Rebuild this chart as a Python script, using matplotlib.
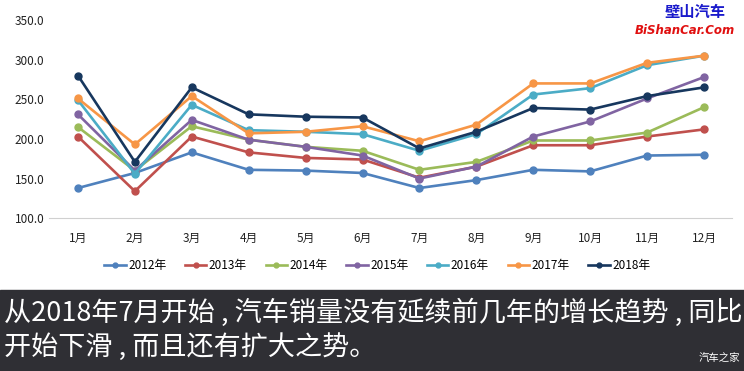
import matplotlib
matplotlib.use('Agg')
import matplotlib.pyplot as plt
from matplotlib.patches import Rectangle

plt.rcParams['font.family'] = ['Noto Sans CJK SC', 'DejaVu Sans']

months = ['1月', '2月', '3月', '4月', '5月', '6月', '7月', '8月', '9月', '10月', '11月', '12月']
years = ['2012年', '2013年', '2014年', '2015年', '2016年', '2017年', '2018年']

s2012 = [138, 157, 183, 161, 160, 157, 138, 148, 161, 159, 179, 180]
s2013 = [203, 134, 203, 183, 176, 174, 151, 165, 192, 192, 203, 212]
s2014 = [215, 160, 216, 199, 190, 185, 161, 171, 198, 198, 208, 240]
s2015 = [231, 160, 224, 199, 190, 179, 150, 165, 203, 222, 251, 278]
s2016 = [249, 156, 243, 211, 209, 206, 185, 206, 256, 264, 293, 305]
s2017 = [251, 193, 254, 207, 209, 216, 197, 218, 270, 270, 296, 305]
s2018 = [280, 171, 265, 231, 228, 227, 188, 209, 239, 237, 254, 265]

series = [s2012, s2013, s2014, s2015, s2016, s2017, s2018]
colors = ['#4f81bd', '#c0504d', '#9bbb59', '#8064a2', '#4bacc6', '#f79646', '#17375e']

fig = plt.figure(figsize=(7.44, 3.71), dpi=100)
ax = fig.add_axes([0.0665, 0.412, 0.918, 0.534])

x = list(range(1, 13))
for vals, c, name in zip(series, colors, years):
    ax.plot(x, vals, color=c, lw=1.9, marker='o', markersize=5, label=name)

ax.set_xlim(0.5, 12.5)
ax.set_ylim(100, 350)
ax.set_yticks([100, 150, 200, 250, 300, 350])
ax.set_yticklabels(['%.1f' % v for v in [100, 150, 200, 250, 300, 350]])
ax.set_xticks(x)
ax.set_xticklabels(months)
ax.tick_params(length=0, labelsize=8.5, colors='#222222')
ax.tick_params(axis='x', pad=10)
for s in ['top', 'right', 'left']:
    ax.spines[s].set_visible(False)
ax.spines['bottom'].set_color('#d0d0d0')

ax.legend(loc='upper center', bbox_to_anchor=(0.48, -0.155), ncol=7, frameon=False,
          fontsize=8.5, handlelength=1.8, handletextpad=0.2, columnspacing=1.6,
          markerscale=0.7)

# 底部说明栏
fig.patches.append(Rectangle((0, 0), 1, 81 / 371, transform=fig.transFigure,
                             color='#2f2f34', zorder=0))
fig.text(0.006, 0.158, '从2018年7月开始 , 汽车销量没有延续前几年的增长趋势 , 同比',
         color='white', fontsize=19.5, va='center', ha='left')
fig.text(0.006, 0.065, '开始下滑 , 而且还有扩大之势。',
         color='white', fontsize=19.5, va='center', ha='left')
fig.text(0.995, 0.02, '汽车之家', color='white', fontsize=7.5, ha='right', va='bottom')

# 水印
fig.text(0.935, 0.968, '壁山汽车', color='#1a1acc', fontsize=11, fontweight='bold',
         ha='center', va='center')
fig.text(0.921, 0.917, 'BiShanCar.Com', color='#e01010', fontsize=8.5,
         fontweight='bold', style='italic', family='DejaVu Sans',
         ha='center', va='center')

fig.savefig('out.png', dpi=100)
